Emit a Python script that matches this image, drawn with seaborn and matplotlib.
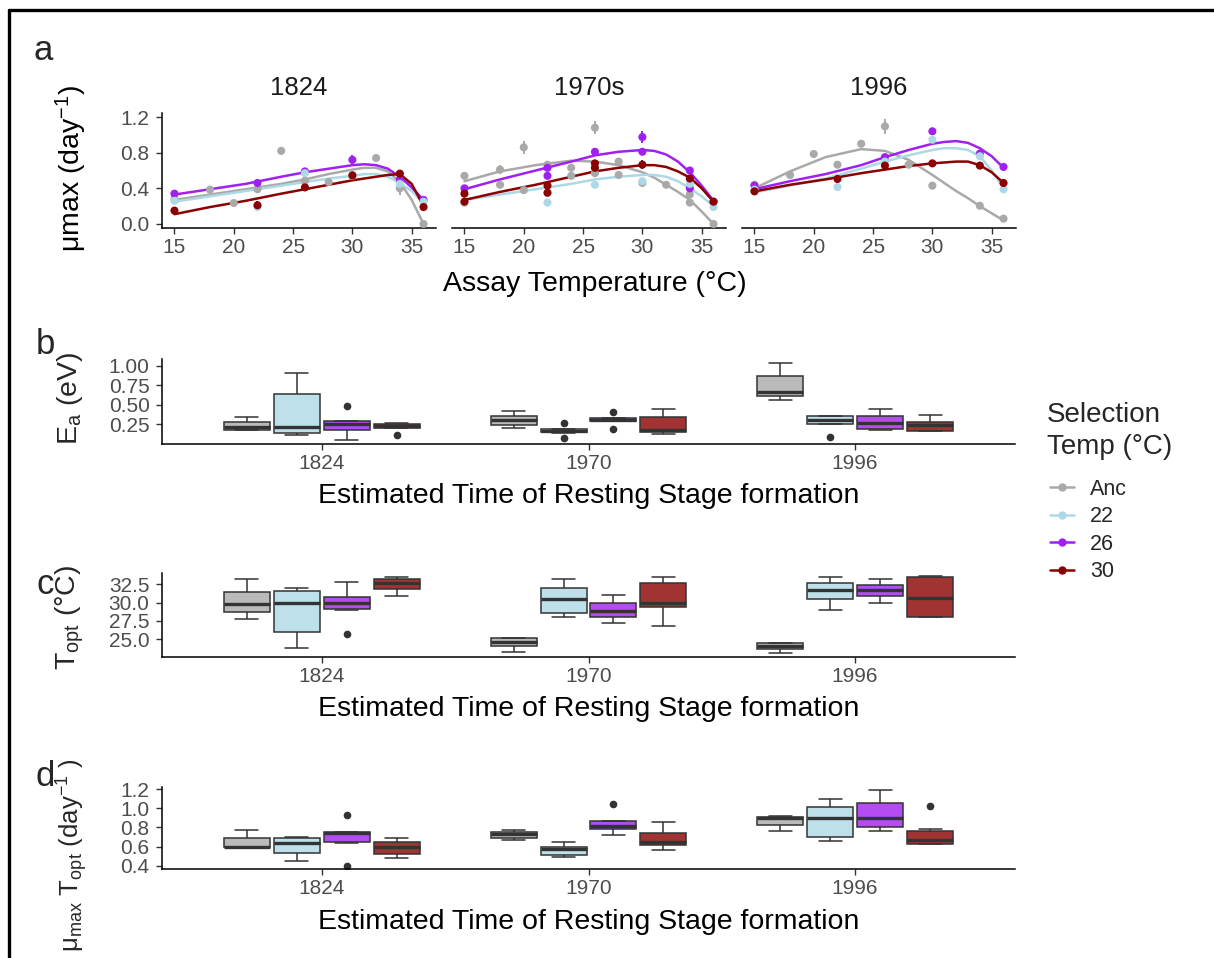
import numpy as np
import pandas as pd
import matplotlib
matplotlib.use("Agg")
import matplotlib.pyplot as plt
from matplotlib.lines import Line2D
import seaborn as sns

# ---------------- data ----------------
YEARS_A = ["1824", "1970s", "1996"]
GROUPS = ["Anc", "22", "26", "30"]

# panel a: measured growth rates (year, selection group, assay temp, mu, se)
a_year = (["1824"] * 29) + (["1970s"] * 41) + (["1996"] * 27)
a_group = (
    ["Anc"] * 11 + ["26"] * 6 + ["22"] * 6 + ["30"] * 6
    + ["Anc"] * 17 + ["26"] * 9 + ["22"] * 6 + ["30"] * 9
    + ["Anc"] * 10 + ["26"] * 5 + ["22"] * 6 + ["30"] * 6
)
a_temp = [
    15, 18, 20, 22, 24, 26, 28, 30, 32, 34, 36,
    15, 22, 26, 30, 34, 36,
    15, 22, 26, 30, 34, 36,
    15, 22, 26, 30, 34, 36,
    15, 18, 18, 20, 20, 22, 24, 24, 26, 26, 28, 28, 30, 32, 34, 34, 36,
    15, 22, 22, 26, 30, 30, 34, 34, 36,
    15, 22, 26, 30, 34, 36,
    15, 15, 22, 22, 26, 26, 30, 34, 36,
    15, 18, 20, 22, 24, 26, 28, 30, 34, 36,
    15, 26, 30, 34, 36,
    15, 22, 26, 30, 34, 36,
    15, 22, 26, 30, 34, 36,
]
a_mu = [
    0.28, 0.385, 0.235, 0.39, 0.82, 0.485, 0.47, 0.54, 0.74, 0.40, 0.0,
    0.34, 0.46, 0.59, 0.72, 0.50, 0.27,
    0.26, 0.19, 0.57, 0.55, 0.45, 0.25,
    0.15, 0.21, 0.41, 0.545, 0.565, 0.19,
    0.54, 0.61, 0.44, 0.86, 0.38, 0.665, 0.63, 0.54, 1.08, 0.57, 0.70, 0.55, 0.46, 0.44, 0.33, 0.24, 0.0,
    0.40, 0.63, 0.54, 0.81, 0.975, 0.81, 0.60, 0.40, 0.25,
    0.235, 0.24, 0.44, 0.48, 0.45, 0.19,
    0.34, 0.25, 0.43, 0.35, 0.68, 0.63, 0.665, 0.51, 0.25,
    0.44, 0.55, 0.785, 0.665, 0.90, 1.095, 0.665, 0.43, 0.205, 0.06,
    0.43, 0.75, 1.04, 0.79, 0.64,
    0.385, 0.415, 0.70, 0.945, 0.76, 0.39,
    0.366, 0.505, 0.655, 0.68, 0.655, 0.46,
]
a_se = [
    0.01, 0.01, 0.01, 0.02, 0.04, 0.02, 0.01, 0.02, 0.05, 0.07, 0.0,
    0.02, 0.04, 0.03, 0.05, 0.03, 0.02,
    0.02, 0.02, 0.02, 0.02, 0.02, 0.02,
    0.02, 0.05, 0.02, 0.03, 0.03, 0.02,
    0.02, 0.05, 0.01, 0.07, 0.01, 0.03, 0.02, 0.01, 0.07, 0.02, 0.02, 0.01, 0.02, 0.04, 0.02, 0.01, 0.0,
    0.02, 0.02, 0.02, 0.04, 0.07, 0.02, 0.03, 0.02, 0.02,
    0.01, 0.01, 0.01, 0.01, 0.01, 0.01,
    0.02, 0.02, 0.02, 0.04, 0.02, 0.04, 0.05, 0.04, 0.02,
    0.01, 0.01, 0.01, 0.01, 0.01, 0.08, 0.01, 0.04, 0.01, 0.01,
    0.01, 0.02, 0.04, 0.03, 0.01,
    0.01, 0.01, 0.01, 0.02, 0.01, 0.01,
    0.01, 0.04, 0.03, 0.02, 0.04, 0.01,
]

# panel a: fitted thermal performance curves
CURVE_T = [15, 18, 21, 24, 26, 28, 30, 31, 32, 33, 34, 35, 36]
CURVE_1824 = {
    "Anc": [0.27, 0.33, 0.39, 0.45, 0.50, 0.56, 0.61, 0.63, 0.63, 0.59, 0.47, 0.27, 0.00],
    "22": [0.25, 0.31, 0.37, 0.43, 0.47, 0.51, 0.54, 0.56, 0.56, 0.53, 0.46, 0.37, 0.23],
    "26": [0.33, 0.39, 0.45, 0.53, 0.58, 0.62, 0.66, 0.67, 0.66, 0.62, 0.53, 0.41, 0.27],
    "30": [0.11, 0.19, 0.26, 0.34, 0.39, 0.44, 0.49, 0.51, 0.53, 0.55, 0.56, 0.45, 0.20],
}
CURVE_1970 = {
    "Anc": [0.48, 0.59, 0.66, 0.71, 0.70, 0.66, 0.58, 0.52, 0.44, 0.36, 0.27, 0.14, 0.00],
    "22": [0.27, 0.33, 0.39, 0.45, 0.50, 0.53, 0.55, 0.55, 0.53, 0.48, 0.40, 0.31, 0.20],
    "26": [0.39, 0.50, 0.60, 0.70, 0.77, 0.81, 0.83, 0.82, 0.78, 0.70, 0.58, 0.43, 0.26],
    "30": [0.27, 0.36, 0.44, 0.53, 0.59, 0.63, 0.66, 0.66, 0.64, 0.59, 0.52, 0.40, 0.25],
}
CURVE_1996 = {
    "Anc": [0.40, 0.59, 0.75, 0.84, 0.82, 0.72, 0.55, 0.46, 0.37, 0.29, 0.20, 0.12, 0.04],
    "22": [0.355, 0.43, 0.51, 0.62, 0.70, 0.77, 0.83, 0.85, 0.85, 0.83, 0.76, 0.60, 0.40],
    "26": [0.39, 0.48, 0.56, 0.66, 0.75, 0.83, 0.90, 0.92, 0.93, 0.91, 0.85, 0.76, 0.63],
    "30": [0.366, 0.44, 0.50, 0.57, 0.61, 0.65, 0.68, 0.69, 0.70, 0.70, 0.66, 0.58, 0.46],
}

# panels b-d: per-replicate values, order Anc, 22, 26, 30
BOX_YEARS = ["1824", "1970", "1996"]
EA_1824 = [[0.175, 0.178, 0.18, 0.20, 0.215, 0.25, 0.276, 0.30, 0.337],
           [0.117, 0.13, 0.14, 0.18, 0.215, 0.40, 0.638, 0.75, 0.91],
           [0.05, 0.12, 0.18, 0.22, 0.25, 0.27, 0.29, 0.29, 0.49],
           [0.11, 0.20, 0.205, 0.22, 0.228, 0.24, 0.258, 0.265, 0.27]]
EA_1970 = [[0.195, 0.22, 0.237, 0.27, 0.30, 0.33, 0.354, 0.39, 0.418],
           [0.073, 0.14, 0.145, 0.155, 0.163, 0.175, 0.185, 0.19, 0.267],
           [0.194, 0.285, 0.29, 0.30, 0.31, 0.32, 0.33, 0.335, 0.405],
           [0.12, 0.14, 0.15, 0.16, 0.172, 0.26, 0.345, 0.40, 0.45]]
EA_1996 = [[0.56, 0.60, 0.617, 0.64, 0.668, 0.77, 0.87, 0.95, 1.043],
           [0.086, 0.25, 0.255, 0.28, 0.31, 0.33, 0.35, 0.355, 0.36],
           [0.17, 0.18, 0.185, 0.23, 0.27, 0.31, 0.354, 0.40, 0.45],
           [0.16, 0.162, 0.163, 0.20, 0.237, 0.26, 0.28, 0.33, 0.375]]
TOPT_1824 = [[27.73, 28.3, 28.68, 29.2, 29.77, 30.6, 31.49, 32.3, 33.18],
             [23.77, 25.0, 25.95, 28.0, 29.99, 30.8, 31.59, 31.8, 31.95],
             [25.72, 28.99, 29.13, 29.6, 29.99, 30.4, 30.81, 31.8, 32.86],
             [30.95, 31.5, 31.86, 32.3, 32.72, 33.0, 33.18, 33.3, 33.45]]
TOPT_1970 = [[23.31, 23.8, 24.09, 24.4, 24.68, 25.0, 25.22, 25.22, 25.22],
             [28.0, 28.3, 28.63, 29.6, 30.5, 31.2, 31.95, 32.6, 33.22],
             [27.18, 27.6, 28.0, 28.5, 28.9, 29.4, 29.91, 30.5, 31.04],
             [26.86, 28.5, 29.45, 29.7, 29.91, 31.0, 32.72, 33.1, 33.45]]
TOPT_1996 = [[23.09, 23.5, 23.68, 23.9, 24.09, 24.3, 24.45, 24.45, 24.45],
             [28.99, 29.8, 30.45, 31.0, 31.68, 32.2, 32.72, 33.1, 33.54],
             [30.0, 30.5, 30.9, 31.3, 31.68, 32.0, 32.4, 32.8, 33.18],
             [28.0, 28.0, 28.0, 29.5, 30.68, 32.0, 33.54, 33.6, 33.63]]
MUTOPT_1824 = [[0.59, 0.59, 0.59, 0.595, 0.60, 0.65, 0.688, 0.73, 0.774],
               [0.452, 0.49, 0.528, 0.59, 0.636, 0.66, 0.684, 0.69, 0.698],
               [0.393, 0.636, 0.652, 0.70, 0.74, 0.745, 0.756, 0.756, 0.927],
               [0.48, 0.50, 0.525, 0.56, 0.59, 0.62, 0.652, 0.67, 0.688]]
MUTOPT_1970 = [[0.663, 0.675, 0.688, 0.71, 0.732, 0.745, 0.756, 0.765, 0.774],
               [0.49, 0.50, 0.507, 0.54, 0.573, 0.585, 0.594, 0.62, 0.646],
               [0.722, 0.76, 0.784, 0.80, 0.815, 0.84, 0.867, 0.867, 1.044],
               [0.566, 0.59, 0.611, 0.63, 0.652, 0.70, 0.746, 0.80, 0.854]]
MUTOPT_1996 = [[0.764, 0.80, 0.823, 0.86, 0.895, 0.90, 0.912, 0.918, 0.923],
               [0.66, 0.68, 0.704, 0.80, 0.90, 0.95, 1.01, 1.05, 1.096],
               [0.767, 0.79, 0.808, 0.85, 0.895, 0.98, 1.058, 1.12, 1.19],
               [0.625, 0.625, 0.625, 0.64, 0.663, 0.70, 0.764, 0.784, 1.027]]

# ---------------- style ----------------
W, H = 1214, 958
LINE_COLORS = {"Anc": "#A9A9A9", "22": "#ADD8E6", "26": "#A020F0", "30": "#8B0000"}
FILL_COLORS = {"Anc": "#BABABA", "22": "#BDE0EB", "26": "#B34DF3", "30": "#A23333"}
TICK_COLOR = "#4D4D4D"
BOX_EDGE = "#333333"
TICK_FS = 15
TITLE_FS = 20.5

sns.set_theme(style="ticks")
plt.rcParams["font.family"] = ["Liberation Sans", "DejaVu Sans"]
plt.rcParams["mathtext.fontset"] = "custom"
plt.rcParams["mathtext.rm"] = "Liberation Sans"
plt.rcParams["mathtext.it"] = "Liberation Sans"

fig = plt.figure(figsize=(W / 100, H / 100), dpi=100)
fig.patch.set_facecolor("white")


def rect(x0, y0, x1, y1):
    return [x0 / W, 1 - y1 / H, (x1 - x0) / W, (y1 - y0) / H]


def fx(x):
    return x / W


def fy(y):
    return 1 - y / H


def style_axis(ax, left=True):
    for s in ["top", "right"]:
        ax.spines[s].set_visible(False)
    for s in ["bottom", "left"]:
        ax.spines[s].set_color("black")
        ax.spines[s].set_linewidth(1.1)
    if not left:
        ax.spines["left"].set_visible(False)
        ax.tick_params(axis="y", left=False, labelleft=False)
    ax.tick_params(axis="both", colors="#333333", labelcolor=TICK_COLOR,
                   length=4.5, width=1.0, labelsize=TICK_FS)
    ax.tick_params(axis="x", pad=3)
    ax.tick_params(axis="y", pad=4.5)
    ax.set_xlabel("")
    ax.set_ylabel("")
    ax.set_facecolor("white")


# ---------------- panel a ----------------
pts = pd.DataFrame({"year": a_year, "group": a_group, "temp": a_temp,
                    "mu": a_mu, "se": a_se})
curves = {"1824": CURVE_1824, "1970s": CURVE_1970, "1996": CURVE_1996}
facet_x = [(162, 436), (452, 726), (742, 1016)]

for i, yr in enumerate(YEARS_A):
    x0, x1 = facet_x[i]
    ax = fig.add_axes(rect(x0, 113, x1, 228))
    cdf = pd.DataFrame([
        {"temp": t, "mu": v, "group": g}
        for g in GROUPS for t, v in zip(CURVE_T, curves[yr][g])
    ])
    sns.lineplot(data=cdf, x="temp", y="mu", hue="group", hue_order=GROUPS,
                 palette=LINE_COLORS, linewidth=1.8, legend=False, ax=ax,
                 zorder=2)
    sub = pts[pts["year"] == yr]
    for g in GROUPS:
        s = sub[sub["group"] == g]
        ax.errorbar(s["temp"], s["mu"], yerr=s["se"], fmt="none",
                    ecolor=LINE_COLORS[g], elinewidth=1.4, zorder=3)
    sns.scatterplot(data=sub, x="temp", y="mu", hue="group", hue_order=GROUPS,
                    palette=LINE_COLORS, s=34, edgecolor="none", legend=False,
                    ax=ax, zorder=4)
    ax.set_xlim(13.95, 37.05)
    ax.set_ylim(-0.045, 1.245)
    ax.set_xticks([15, 20, 25, 30, 35])
    ax.set_yticks([0.0, 0.4, 0.8, 1.2])
    ax.set_yticklabels(["0.0", "0.4", "0.8", "1.2"])
    style_axis(ax, left=(i == 0))
    ax.text(0.5, 1 + 25 / 115, yr, transform=ax.transAxes, ha="center",
            va="center", fontsize=18.5, color="#1A1A1A")

fig.text(fx(595), fy(284), "Assay Temperature (°C)", ha="center", va="center",
         fontsize=TITLE_FS, color="black")
fig.text(fx(71), fy(168), "μmax (day$^{-1}$)", ha="center", va="center",
         rotation=90, fontsize=TITLE_FS, color="black")


# ---------------- panels b-d ----------------
def long_box(v1824, v1970, v1996):
    rows = []
    for yr, vals in zip(BOX_YEARS, [v1824, v1970, v1996]):
        for g, arr in zip(GROUPS, vals):
            for v in arr:
                rows.append({"year": yr, "group": g, "val": v})
    return pd.DataFrame(rows)


box_specs = [
    (359, 444, long_box(EA_1824, EA_1970, EA_1996), (-0.005, 1.09),
     [0.25, 0.50, 0.75, 1.00], ["0.25", "0.50", "0.75", "1.00"]),
    (573, 657, long_box(TOPT_1824, TOPT_1970, TOPT_1996), (22.57, 34.05),
     [25.0, 27.5, 30.0, 32.5], ["25.0", "27.5", "30.0", "32.5"]),
    (787, 869, long_box(MUTOPT_1824, MUTOPT_1970, MUTOPT_1996), (0.365, 1.222),
     [0.4, 0.6, 0.8, 1.0, 1.2], ["0.4", "0.6", "0.8", "1.0", "1.2"]),
]
xlab_y = [496, 709, 922]

for k, (ytop, ybot, df, ylim, yt, ytl) in enumerate(box_specs):
    ax = fig.add_axes(rect(162, ytop, 1015, ybot))
    sns.boxplot(data=df, x="year", y="val", hue="group", order=BOX_YEARS,
                hue_order=GROUPS, palette=FILL_COLORS, width=0.75, gap=0.08,
                linecolor=BOX_EDGE, linewidth=1.1, legend=False, ax=ax,
                medianprops={"linewidth": 2.4, "color": BOX_EDGE},
                flierprops={"marker": "o", "markerfacecolor": BOX_EDGE,
                            "markeredgecolor": BOX_EDGE, "markersize": 4.5},
                saturation=1)
    ax.set_xlim(-0.6, 2.6)
    ax.set_ylim(*ylim)
    ax.set_yticks(yt)
    ax.set_yticklabels(ytl)
    style_axis(ax)
    fig.text(fx(589), fy(xlab_y[k]), "Estimated Time of Resting Stage formation",
             ha="center", va="center", fontsize=TITLE_FS, color="black")

fig.text(fx(70), fy(398), r"E$_\mathregular{a}$ (eV)", ha="center", va="center",
         rotation=90, fontsize=TITLE_FS)
fig.text(fx(70), fy(617), r"T$_\mathregular{opt}$ (°C)", ha="center", va="center",
         rotation=90, fontsize=TITLE_FS)
fig.text(fx(72), fy(855), r"μ$_\mathregular{max}$ T$_\mathregular{opt}$ (day$^\mathregular{-1}$ )",
         ha="center", va="center", rotation=90, fontsize=18.5)

# panel letters
for lab, (x, y) in zip("abcd", [(43, 51), (45, 345), (45, 585), (45, 776)]):
    fig.text(fx(x), fy(y), lab, ha="center", va="center", fontsize=25)

# legend
fig.text(fx(1047), fy(431), "Selection\nTemp (°C)", ha="left", va="center",
         fontsize=20, linespacing=1.28)
handles = [Line2D([0], [0], color=LINE_COLORS[g], lw=1.8, marker="o",
                  markersize=6, markeredgewidth=0) for g in GROUPS]
leg = fig.legend(handles, GROUPS, loc="upper left",
                 bbox_to_anchor=(fx(1050), fy(479)), borderpad=0,
                 borderaxespad=0, frameon=False, fontsize=TICK_FS + 0.5,
                 handlelength=1.1, handletextpad=0.75, labelspacing=0.3)

# outer frame
fig.add_artist(Line2D([fx(9), 1], [fy(10), fy(10)], color="black", lw=2.4))
fig.add_artist(Line2D([fx(9), fx(9)], [fy(10), 0], color="black", lw=2.4))

fig.savefig("out.png", dpi=100, facecolor="white")
